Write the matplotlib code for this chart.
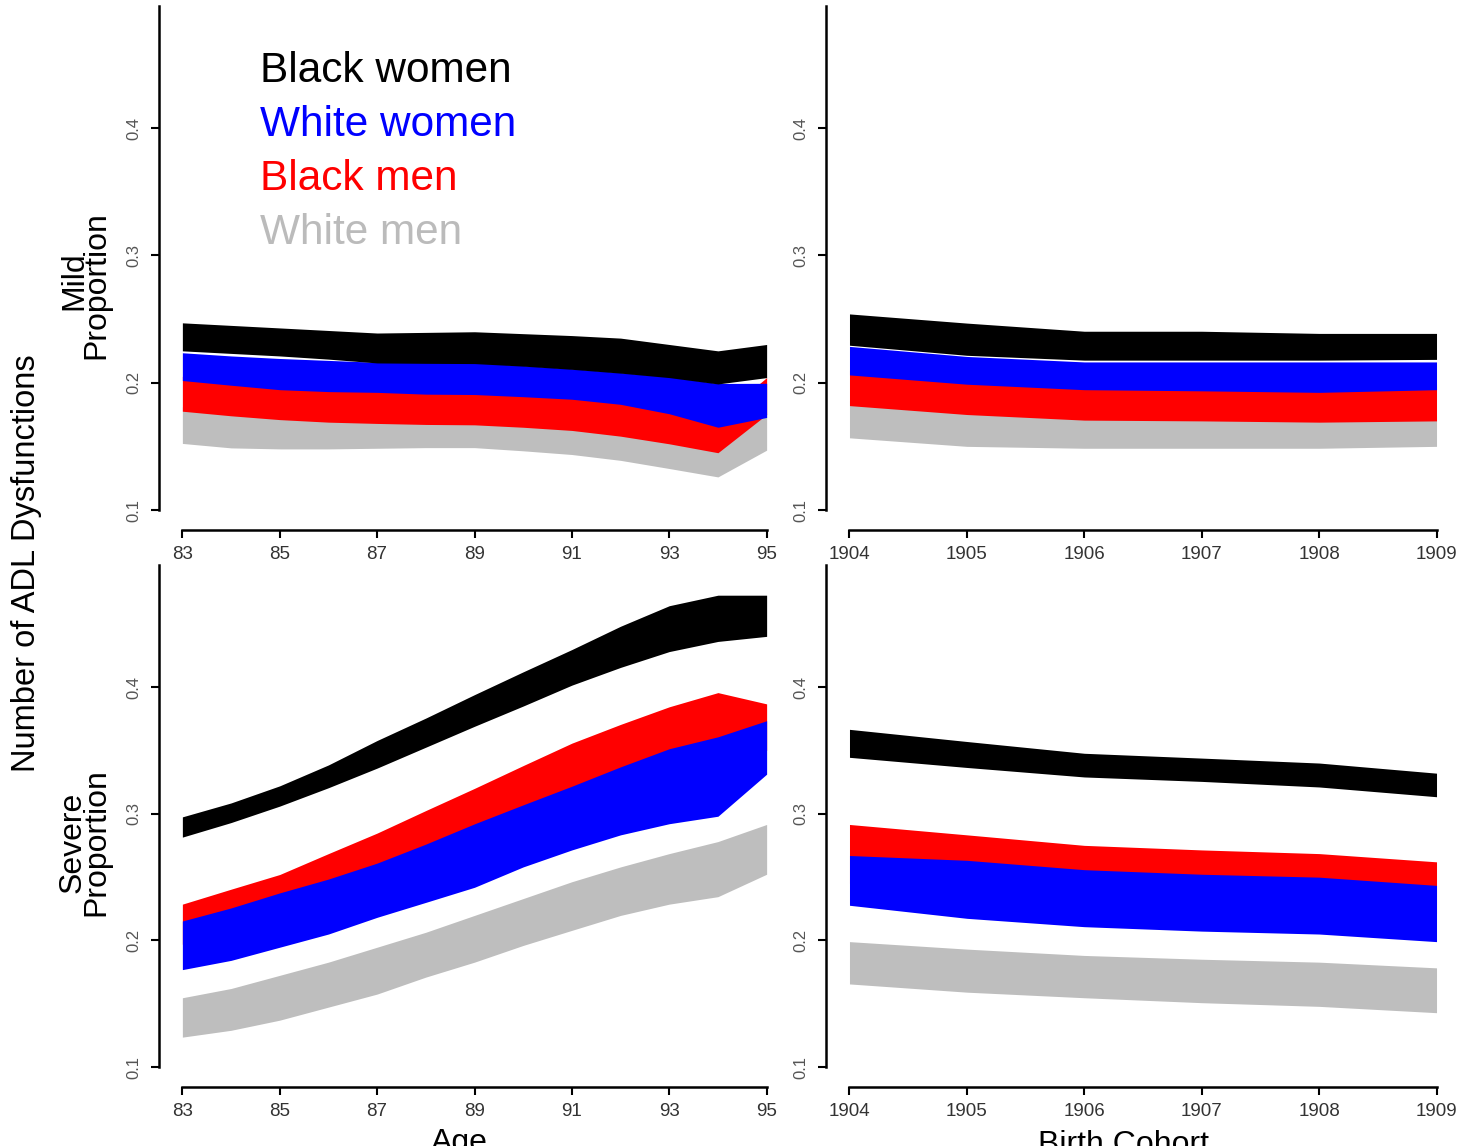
import matplotlib
matplotlib.use("Agg")
import matplotlib.pyplot as plt

plt.rcParams['font.family'] = ['Liberation Sans', 'DejaVu Sans']

# ---------------- data ----------------
ages = [83, 84, 85, 86, 87, 88, 89, 90, 91, 92, 93, 94, 95]
cohorts = [1904, 1905, 1906, 1907, 1908, 1909]

groups = ["Black women", "White women", "Black men", "White men"]
group_colors = ["#000000", "#0000FF", "#FF0000", "#BEBEBE"]
label_colors = ["#000000", "#0000FF", "#FF0000", "#BBBBBB"]

# Mild ADL dysfunction, by age (lower / upper bounds)
mild_age_bw_lo = [0.225, 0.223, 0.221, 0.2185, 0.2155, 0.2152, 0.2150, 0.213, 0.2105, 0.2075, 0.204, 0.199, 0.204]
mild_age_bw_hi = [0.247, 0.245, 0.243, 0.241, 0.239, 0.2395, 0.240, 0.2385, 0.237, 0.235, 0.230, 0.225, 0.230]
mild_age_ww_lo = [0.2017, 0.198, 0.1945, 0.193, 0.1924, 0.191, 0.1907, 0.189, 0.187, 0.183, 0.1756, 0.165, 0.1727]
mild_age_ww_hi = [0.2235, 0.221, 0.219, 0.2175, 0.216, 0.216, 0.2157, 0.2135, 0.211, 0.208, 0.2047, 0.1994, 0.1995]
mild_age_bm_lo = [0.1776, 0.174, 0.171, 0.169, 0.168, 0.1672, 0.1669, 0.165, 0.1625, 0.158, 0.152, 0.145, 0.175]
mild_age_bm_hi = [0.205, 0.201, 0.198, 0.196, 0.195, 0.194, 0.193, 0.191, 0.189, 0.185, 0.180, 0.172, 0.204]
mild_age_wm_lo = [0.1523, 0.1488, 0.148, 0.148, 0.1485, 0.149, 0.149, 0.1465, 0.1436, 0.139, 0.1326, 0.126, 0.147]
mild_age_wm_hi = [0.181, 0.178, 0.175, 0.173, 0.172, 0.171, 0.171, 0.169, 0.167, 0.163, 0.157, 0.150, 0.176]

# Mild ADL dysfunction, by birth cohort
mild_coh_bw_lo = [0.2294, 0.2215, 0.2177, 0.2177, 0.2177, 0.2183]
mild_coh_bw_hi = [0.254, 0.2468, 0.2404, 0.2404, 0.2387, 0.2387]
mild_coh_ww_lo = [0.2061, 0.1988, 0.1945, 0.1936, 0.1924, 0.1945]
mild_coh_ww_hi = [0.2285, 0.2206, 0.2163, 0.2163, 0.2163, 0.2163]
mild_coh_bm_lo = [0.182, 0.175, 0.1706, 0.170, 0.169, 0.170]
mild_coh_bm_hi = [0.210, 0.203, 0.199, 0.198, 0.197, 0.199]
mild_coh_wm_lo = [0.1567, 0.150, 0.1485, 0.1485, 0.1485, 0.150]
mild_coh_wm_hi = [0.186, 0.179, 0.175, 0.174, 0.173, 0.174]

# Severe ADL dysfunction, by age
sev_age_bw_lo = [0.2815, 0.293, 0.306, 0.3205, 0.336, 0.3525, 0.369, 0.385, 0.4015, 0.4155, 0.428, 0.436, 0.440]
sev_age_bw_hi = [0.2975, 0.3085, 0.322, 0.3385, 0.3578, 0.3755, 0.394, 0.412, 0.4296, 0.448, 0.4642, 0.4725, 0.4725]
sev_age_ww_lo = [0.1769, 0.1842, 0.1946, 0.205, 0.2182, 0.230, 0.2419, 0.258, 0.2714, 0.2833, 0.2921, 0.298, 0.3312]
sev_age_ww_hi = [0.2153, 0.2256, 0.2375, 0.2484, 0.261, 0.276, 0.292, 0.307, 0.3217, 0.337, 0.3513, 0.3607, 0.3734]
sev_age_bm_lo = [0.197, 0.207, 0.218, 0.230, 0.243, 0.257, 0.272, 0.287, 0.302, 0.316, 0.330, 0.340, 0.350]
sev_age_bm_hi = [0.2286, 0.2404, 0.252, 0.2685, 0.2847, 0.3025, 0.320, 0.338, 0.3557, 0.3705, 0.3844, 0.3956, 0.3867]
sev_age_wm_lo = [0.1236, 0.129, 0.137, 0.1473, 0.1576, 0.171, 0.1828, 0.196, 0.2079, 0.2197, 0.2286, 0.2345, 0.2522]
sev_age_wm_hi = [0.1547, 0.162, 0.1724, 0.1828, 0.1946, 0.2064, 0.2197, 0.233, 0.2463, 0.258, 0.2685, 0.278, 0.2915]

# Severe ADL dysfunction, by birth cohort
sev_coh_bw_lo = [0.3445, 0.3365, 0.329, 0.3255, 0.3211, 0.3134]
sev_coh_bw_hi = [0.3666, 0.357, 0.3477, 0.3439, 0.340, 0.332]
sev_coh_ww_lo = [0.2277, 0.2174, 0.2108, 0.2073, 0.205, 0.199]
sev_coh_ww_hi = [0.267, 0.2632, 0.2558, 0.2522, 0.2499, 0.2434]
sev_coh_bm_lo = [0.245, 0.240, 0.233, 0.230, 0.227, 0.221]
sev_coh_bm_hi = [0.2915, 0.2833, 0.275, 0.2714, 0.2685, 0.262]
sev_coh_wm_lo = [0.1656, 0.1591, 0.1547, 0.1508, 0.1479, 0.1429]
sev_coh_wm_hi = [0.199, 0.1931, 0.1881, 0.1851, 0.1828, 0.1783]

y_ticks = [0.1, 0.2, 0.3, 0.4]
y_ticklabels = ["0.1", "0.2", "0.3", "0.4"]
age_ticks = [83, 85, 87, 89, 91, 93, 95]
cohort_ticks = [1904, 1905, 1906, 1907, 1908, 1909]

# ---------------- figure ----------------
W, H = 1468, 1146
fig = plt.figure(figsize=(W / 100, H / 100), dpi=100)


def add_px_axes(x0, x1, ytop, ybot):
    return fig.add_axes([x0 / W, 1 - ybot / H, (x1 - x0) / W, (ybot - ytop) / H])


def style_axes(ax, xlim, xticks):
    ax.set_xlim(*xlim)
    ax.set_ylim(0.084, 0.516)
    for s in ("top", "right"):
        ax.spines[s].set_visible(False)
    ax.spines["left"].set_bounds(0.1, 0.496)
    ax.spines["bottom"].set_bounds(xticks[0], xticks[-1])
    for s in ("left", "bottom"):
        ax.spines[s].set_linewidth(1.8)
    ax.set_xticks(xticks)
    ax.set_xticklabels([str(t) for t in xticks])
    ax.set_yticks(y_ticks)
    ax.set_yticklabels(y_ticklabels, rotation=90, va="center")
    ax.tick_params(axis="both", direction="out", length=6, width=1.5)
    ax.tick_params(axis="x", labelsize=13.5, labelcolor="#333333", pad=5)
    ax.tick_params(axis="y", labelsize=12, labelcolor="#555555", pad=7)
    ax.patch.set_visible(False)


def draw_bands(ax, x, bands):
    # white men first, black women last (each band painted over the previous)
    for (lo, hi), col in reversed(list(zip(bands, group_colors))):
        ax.fill_between(x, lo, hi, color=col, linewidth=0)


ax_tl = add_px_axes(159, 790, -19.7, 530.4)
ax_tr = add_px_axes(826, 1460, -19.7, 530.4)
ax_bl = add_px_axes(159, 790, 540.1, 1087.3)
ax_br = add_px_axes(826, 1460, 540.1, 1087.3)

draw_bands(ax_tl, ages, [(mild_age_bw_lo, mild_age_bw_hi), (mild_age_ww_lo, mild_age_ww_hi),
                         (mild_age_bm_lo, mild_age_bm_hi), (mild_age_wm_lo, mild_age_wm_hi)])
draw_bands(ax_tr, cohorts, [(mild_coh_bw_lo, mild_coh_bw_hi), (mild_coh_ww_lo, mild_coh_ww_hi),
                            (mild_coh_bm_lo, mild_coh_bm_hi), (mild_coh_wm_lo, mild_coh_wm_hi)])
draw_bands(ax_bl, ages, [(sev_age_bw_lo, sev_age_bw_hi), (sev_age_ww_lo, sev_age_ww_hi),
                         (sev_age_bm_lo, sev_age_bm_hi), (sev_age_wm_lo, sev_age_wm_hi)])
draw_bands(ax_br, cohorts, [(sev_coh_bw_lo, sev_coh_bw_hi), (sev_coh_ww_lo, sev_coh_ww_hi),
                            (sev_coh_bm_lo, sev_coh_bm_hi), (sev_coh_wm_lo, sev_coh_wm_hi)])

for ax in (ax_tl, ax_bl):
    style_axes(ax, (82.52, 95.48), age_ticks)
for ax in (ax_tr, ax_br):
    style_axes(ax, (1903.8, 1909.2), cohort_ticks)


def ftext(x, y, s, **kw):
    return fig.text(x / W, 1 - y / H, s, **kw)


# group labels
for i, (name, col) in enumerate(zip(groups, label_colors)):
    ftext(260, 82 + 54 * i, name, color=col, fontsize=30.5, ha="left", va="baseline")

# axis titles
ftext(27, 563, "Number of ADL Dysfunctions", rotation=90, fontsize=23.5, ha="center", va="center")
ftext(74, 281, "Mild", rotation=90, fontsize=23, ha="center", va="center")
ftext(96, 285, "Proportion", rotation=90, fontsize=23, ha="center", va="center")
ftext(73, 842, "Severe", rotation=90, fontsize=23, ha="center", va="center")
ftext(96, 842, "Proportion", rotation=90, fontsize=23, ha="center", va="center")
ftext(459, 1151, "Age", fontsize=23, ha="center", va="baseline")
ftext(1124, 1153, "Birth Cohort", fontsize=23, ha="center", va="baseline")

fig.savefig("out.png", dpi=100)
